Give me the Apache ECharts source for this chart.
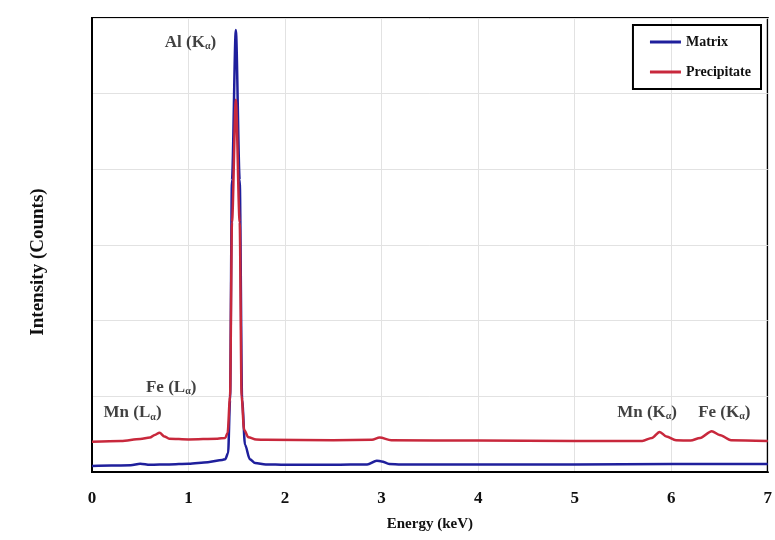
<!DOCTYPE html>
<html>
<head>
<meta charset="utf-8">
<script src="https://cdn.jsdelivr.net/npm/echarts@6/dist/echarts.min.js"></script>
<style>
  html, body { margin: 0; padding: 0; background: #fff; }
  #chart { width: 775px; height: 540px; }
</style>
</head>
<body>
<div id="chart"></div>
<script>
// EDS spectra, energy (keV) vs intensity (counts)
const matrixData = [
  [0, 80], [0.2, 85], [0.4, 90], [0.5, 110], [0.6, 95], [0.8, 100],
  [1.0, 110], [1.2, 130], [1.35, 160], [1.38, 170], [1.41, 250],
  [1.43, 950], [1.45, 3860], [1.49, 5840], [1.53, 3860], [1.555, 950],
  [1.585, 360], [1.635, 170], [1.69, 120], [1.8, 100], [2.0, 95],
  [2.5, 95], [2.85, 100], [2.95, 150], [3.0, 140], [3.08, 105],
  [3.2, 100], [4.0, 100], [5.0, 100], [6.0, 105], [7.0, 105]
];

const precipitateData = [
  [0, 400], [0.3, 410], [0.5, 435], [0.6, 455], [0.65, 490], [0.7, 520],
  [0.75, 470], [0.8, 440], [1.0, 430], [1.3, 440], [1.38, 450],
  [1.405, 520], [1.43, 1000], [1.45, 3300], [1.49, 4920], [1.53, 3300],
  [1.55, 1000], [1.575, 560], [1.62, 460], [1.7, 430], [1.8, 425],
  [2.5, 420], [2.9, 425], [2.98, 455], [3.1, 420], [4.0, 415],
  [5.0, 410], [5.7, 410], [5.8, 450], [5.88, 530], [5.95, 470],
  [6.05, 420], [6.2, 415], [6.3, 450], [6.42, 540], [6.5, 490],
  [6.62, 420], [7.0, 410]
];

const xTicks = [0, 1, 2, 3, 4, 5, 6, 7];

// peak annotations: element, line, anchor energy, anchor counts
const peakLabels = [
  { el: 'Al', line: 'K', x: 1.02, y: 5680 },
  { el: 'Fe', line: 'L', x: 0.82, y: 1120 },
  { el: 'Mn', line: 'L', x: 0.42, y: 780 },
  { el: 'Mn', line: 'K', x: 5.75, y: 790 },
  { el: 'Fe', line: 'K', x: 6.55, y: 790 }
];

const serif = '"Liberation Serif", "DejaVu Serif", serif';
const ink = '#111';

const chart = echarts.init(document.getElementById('chart'));
chart.setOption({
  animation: false,
  backgroundColor: '#fff',
  grid: {
    left: 92, right: 7, top: 18, bottom: 68,
    show: true, borderColor: '#000', borderWidth: 2
  },
  legend: {
    right: 14, top: 25,
    orient: 'vertical',
    icon: 'rect', itemWidth: 31, itemHeight: 3, itemGap: 16,
    padding: [10, 10, 10, 17],
    borderColor: '#000', borderWidth: 2,
    textStyle: { fontFamily: serif, fontWeight: 'bold', fontSize: 14, color: ink },
    data: ['Matrix', 'Precipitate']
  },
  xAxis: {
    type: 'value', min: 0, max: 7, interval: 1,
    name: 'Energy (keV)', nameLocation: 'middle', nameGap: 45,
    nameTextStyle: { fontFamily: serif, fontWeight: 'bold', fontSize: 15, color: ink },
    axisLine: { show: true, lineStyle: { color: '#000', width: 2 } },
    axisTick: { show: false },
    axisLabel: {
      margin: 18, fontFamily: serif, fontWeight: 'bold', fontSize: 17, color: ink,
      formatter: v => xTicks.includes(v) ? String(v) : ''
    },
    splitLine: { show: true, lineStyle: { color: '#e2e2e2', width: 1 } }
  },
  yAxis: {
    type: 'value', min: 0, max: 6000, interval: 1000,
    name: 'Intensity (Counts)', nameLocation: 'middle', nameGap: 44,
    nameTextStyle: { fontFamily: serif, fontWeight: 'bold', fontSize: 19, color: ink, padding: [0, 34, 0, 0] },
    axisLine: { show: true, lineStyle: { color: '#000', width: 2 } },
    axisTick: { show: false },
    axisLabel: { show: false },
    splitLine: { show: true, lineStyle: { color: '#e2e2e2', width: 1 } }
  },
  series: [
    {
      name: 'Matrix', type: 'line', data: matrixData,
      showSymbol: false, smooth: 0.3, smoothMonotone: 'x',
      lineStyle: { color: '#1f1f9c', width: 2.5 }, itemStyle: { color: '#1f1f9c' }
    },
    {
      name: 'Precipitate', type: 'line', data: precipitateData,
      showSymbol: false, smooth: 0.3, smoothMonotone: 'x',
      lineStyle: { color: '#c8283c', width: 2.5 }, itemStyle: { color: '#c8283c' }
    },
    {
      type: 'scatter', symbolSize: 0, silent: true,
      itemStyle: { color: 'transparent' },
      data: peakLabels.map(p => ({ value: [p.x, p.y], el: p.el, line: p.line })),
      label: {
        show: true, position: 'inside', color: ink, textBorderWidth: 0,
        formatter: p => `{a|${p.data.el} (${p.data.line}}{s|α}{a|)}`,
        rich: {
          a: { fontFamily: serif, fontWeight: 'bold', fontSize: 17, color: ink, textBorderWidth: 0 },
          s: { fontFamily: serif, fontWeight: 'bold', fontSize: 10, color: ink, textBorderWidth: 0, verticalAlign: 'bottom', padding: [8, 0, 0, 0] }
        }
      }
    }
  ]
});
</script>
</body>
</html>
